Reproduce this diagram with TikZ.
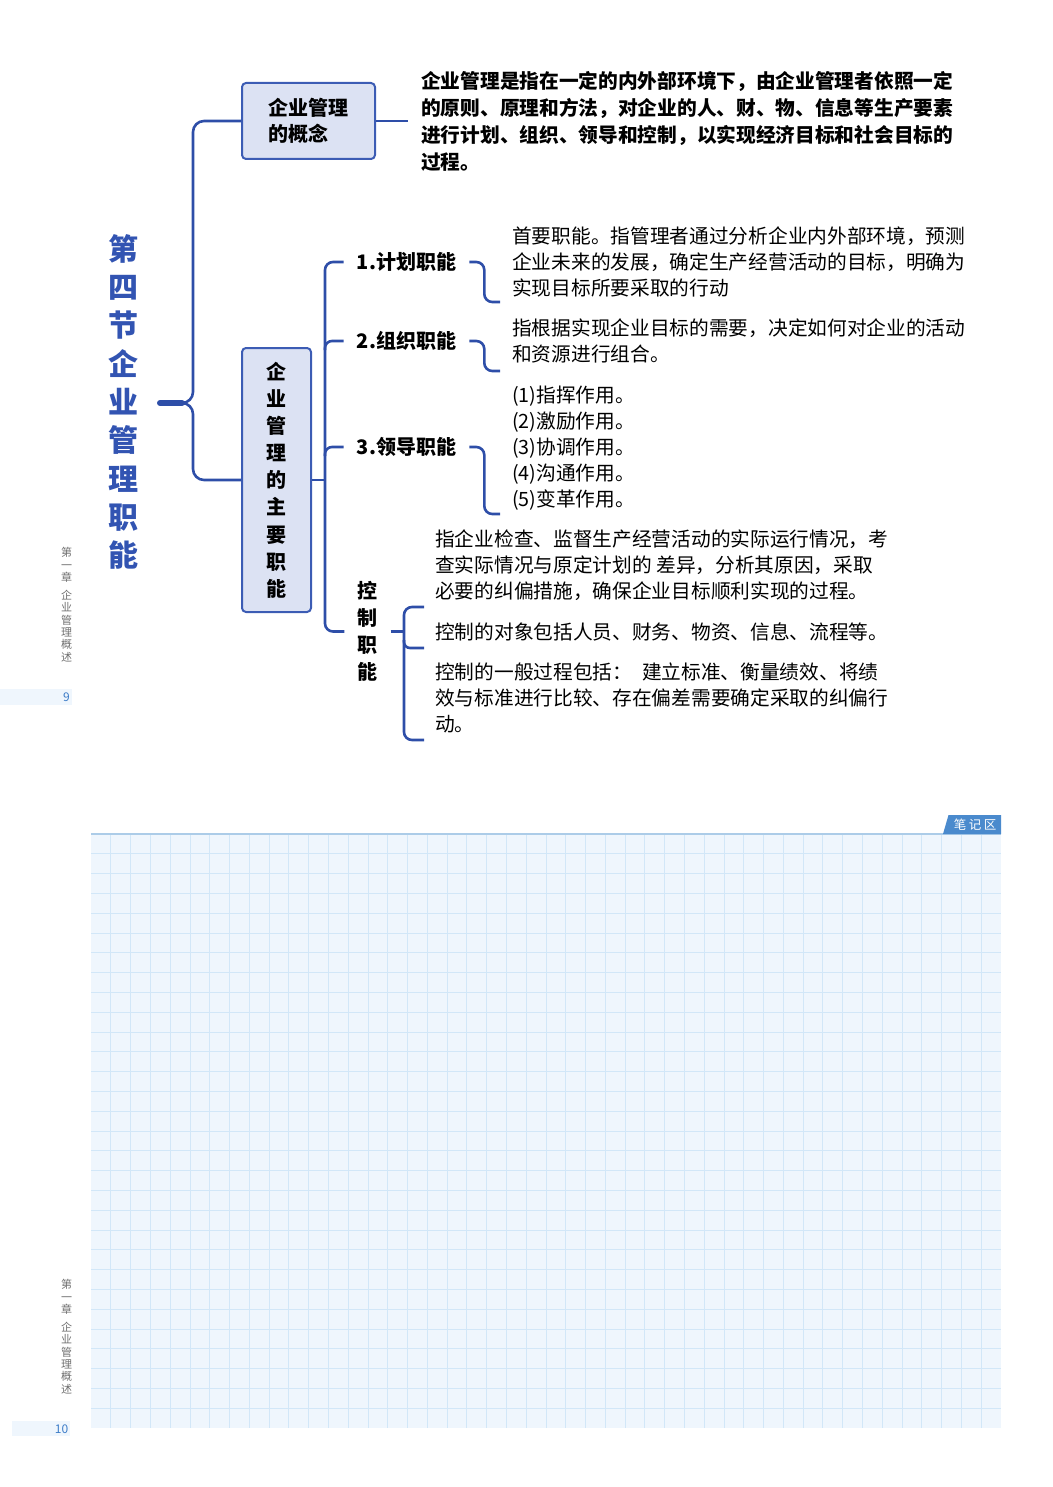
\documentclass[tikz,border=0pt]{standalone}
\usepackage{fontspec}
\setmainfont{Noto Sans CJK SC}
\usetikzlibrary{calc}
\definecolor{navy}{RGB}{46,78,168}
\definecolor{titleblue}{RGB}{50,84,178}
\definecolor{boxfill}{RGB}{220,226,243}
\definecolor{boxline}{RGB}{60,92,180}
\definecolor{gridbg}{RGB}{239,246,253}
\definecolor{gridln}{RGB}{210,231,248}
\definecolor{gridtop}{RGB}{172,204,232}
\definecolor{tabblue}{RGB}{74,138,205}
\definecolor{pagenum}{RGB}{62,125,200}
\definecolor{sidegray}{RGB}{110,110,110}
\tikzset{
  conn/.style={draw=navy, line width=2.6pt, rounded corners=9pt},
  conceptbox/.style={draw=boxline, fill=boxfill, line width=2pt, rounded corners=4pt, inner sep=0pt, font=\bfseries},
  lbl/.style={inner xsep=13pt, inner ysep=0pt, font=\bfseries\fontsize{20}{27}\selectfont, align=center},
  bodytxt/.style={anchor=north west, inner sep=0pt, align=left, font=\fontsize{19.7}{26}\selectfont},
  ctltxt/.style={anchor=north west, inner sep=0pt, align=left, font=\fontsize{19.7}{26}\selectfont},
  sidetxt/.style={inner sep=0pt, align=center, text=sidegray, font=\fontsize{11}{12.4}\selectfont},
  gridline/.style={draw=gridln, line width=0.8pt},
}
\begin{document}
\begin{tikzpicture}[x=1pt,y=-1pt]
\useasboundingbox (0,0) rectangle (1052,1487);

% ---------- side marks ----------
\node[sidetxt] (sa1) at (66.5,565) {第\\一\\章};
\node[sidetxt] (sb1) at (66.5,626) {企\\业\\管\\理\\概\\述};
\fill[gridbg] (0,689) rectangle (72,705);
\node[anchor=east, inner sep=0pt, text=pagenum, font=\fontsize{12}{14}\selectfont] (pn1) at (70,697) {9};

\node[sidetxt] (sa2) at (66.5,1297) {第\\一\\章};
\node[sidetxt] (sb2) at (66.5,1358) {企\\业\\管\\理\\概\\述};
\fill[gridbg] (12,1421) rectangle (70,1436);
\node[anchor=east, inner sep=0pt, text=pagenum, font=\fontsize{12}{14}\selectfont] (pn2) at (68.5,1429) {10};

% ---------- note grid ----------
\fill[gridbg] (91,834) rectangle (1001,1428);
\foreach \i in {1,...,45} \draw[gridline] ({91+\i*19.78},834) -- ({91+\i*19.78},1428);
\foreach \j in {1,...,29} \draw[gridline] (91,{834+\j*19.8}) -- (1001,{834+\j*19.8});
\draw[draw=gridtop, line width=1.2pt] (91,834) -- (1001,834);
\fill[tabblue] (943,834) -- (948.5,815) -- (1001,815) -- (1001,834) -- cycle;
\node[inner sep=0pt, text=white, font=\fontsize{12.5}{14}\selectfont] (tab) at (975,824.5) {笔\hspace{2.5pt}记\hspace{2.5pt}区};

% ---------- title ----------
\node[inner sep=0pt, align=center, text=titleblue, font=\bfseries\fontsize{30}{38.3}\selectfont] (title) at (123,402)
  {第\\四\\节\\企\\业\\管\\理\\职\\能};
\coordinate (root) at (160,403);

% ---------- level 1 boxes ----------
\node[conceptbox, minimum width=133pt, minimum height=76pt, align=left, font=\bfseries\fontsize{20}{26}\selectfont] (box1) at (308.5,121)
  {企业管理\\的概念};
\node[conceptbox, minimum width=69pt, minimum height=264pt, align=center, font=\bfseries\fontsize{20}{27.15}\selectfont] (box2) at (276.5,480)
  {企\\业\\管\\理\\的\\主\\要\\职\\能};

% definition text
\node[anchor=north west, inner xsep=13pt, inner ysep=0pt, align=left, font=\bfseries\fontsize{19.7}{27}\selectfont] (def) at (408,69.6)
  {\strut 企业管理是指在一定的内外部环境下，由企业管理者依照一定\\的原则、原理和方法，对企业的人、财、物、信息等生产要素\\进行计划、组织、领导和控制，以实现经济目标和社会目标的\\过程。};

% ---------- level 2 labels ----------
\node[lbl] (l1) at (406.5,262) {1.计划职能};
\node[lbl] (l2) at (406.5,341) {2.组织职能};
\node[lbl] (l3) at (406.5,447) {3.领导职能};
\node[lbl] (l4) at (367.5,631.5) {控\\制\\职\\能};

% ---------- level 3 texts ----------
\node[bodytxt] (t1) at (512,225.3) {\strut 首要职能。指管理者通过分析企业内外部环境，预测\\企业未来的发展，确定生产经营活动的目标，明确为\\实现目标所要采取的行动};
\node[bodytxt] (t2) at (512,317.3) {\strut 指根据实现企业目标的需要，决定如何对企业的活动\\和资源进行组合。};
\node[bodytxt] (t3) at (512,384.3) {\strut (1)指挥作用。\\(2)激励作用。\\(3)协调作用。\\(4)沟通作用。\\(5)变革作用。};

\node[ctltxt] (c1) at (435,528.3) {\strut 指企业检查、监督生产经营活动的实际运行情况，考\\查实际情况与原定计划的 差异，分析其原因，采取\\必要的纠偏措施，确保企业目标顺利实现的过程。};
\node[ctltxt] (c2) at (435,621.3) {\strut 控制的对象包括人员、财务、物资、信息、流程等。};
\node[ctltxt] (c3) at (435,661.3) {\strut 控制的一般过程包括：\hspace{0.5em}建立标准、衡量绩效、将绩\\效与标准进行比较、存在偏差需要确定采取的纠偏行\\动。};

\coordinate (t1c) at (500,302);
\coordinate (t2c) at (500,371);
\coordinate (t3c) at (500,514);
\coordinate (c1c) at (424,607);
\coordinate (c2c) at (424,648);
\coordinate (c3c) at (424,740);

% ---------- connectors ----------
\draw[navy, line width=6pt, line cap=round] (root) -- (182,403);
\draw[conn, rounded corners=11pt] (box1.west) -| (193,403) -- (180,403);
\draw[conn, rounded corners=11pt] (box2.west) -| (193,403) -- (180,403);
\draw[conn] (box1.east) -- (def.west |- box1.east);

\draw[conn, rounded corners=8pt] (l1.west) -| (325,480) |- (l4.west);
\draw[conn, rounded corners=7pt] (l2.west) -| (325,350);
\draw[conn, rounded corners=7pt] (l3.west) -| (325,456);
\draw[conn] (box2.east) -- (325,480);

\draw[conn, rounded corners=8pt] (l1.east) -- ++(15,0) |- (t1c);
\draw[conn, rounded corners=8pt] (l2.east) -- ++(15,0) |- (t2c);
\draw[conn, rounded corners=8pt] (l3.east) -- ++(15,0) |- (t3c);

\draw[conn] (l4.east) -- (404,631.5);
\draw[conn, rounded corners=8pt] (c1c) -| (404,631.5) |- (c3c);
\draw[conn, rounded corners=6pt] (c2c) -| (404,640);
\end{tikzpicture}
\end{document}
